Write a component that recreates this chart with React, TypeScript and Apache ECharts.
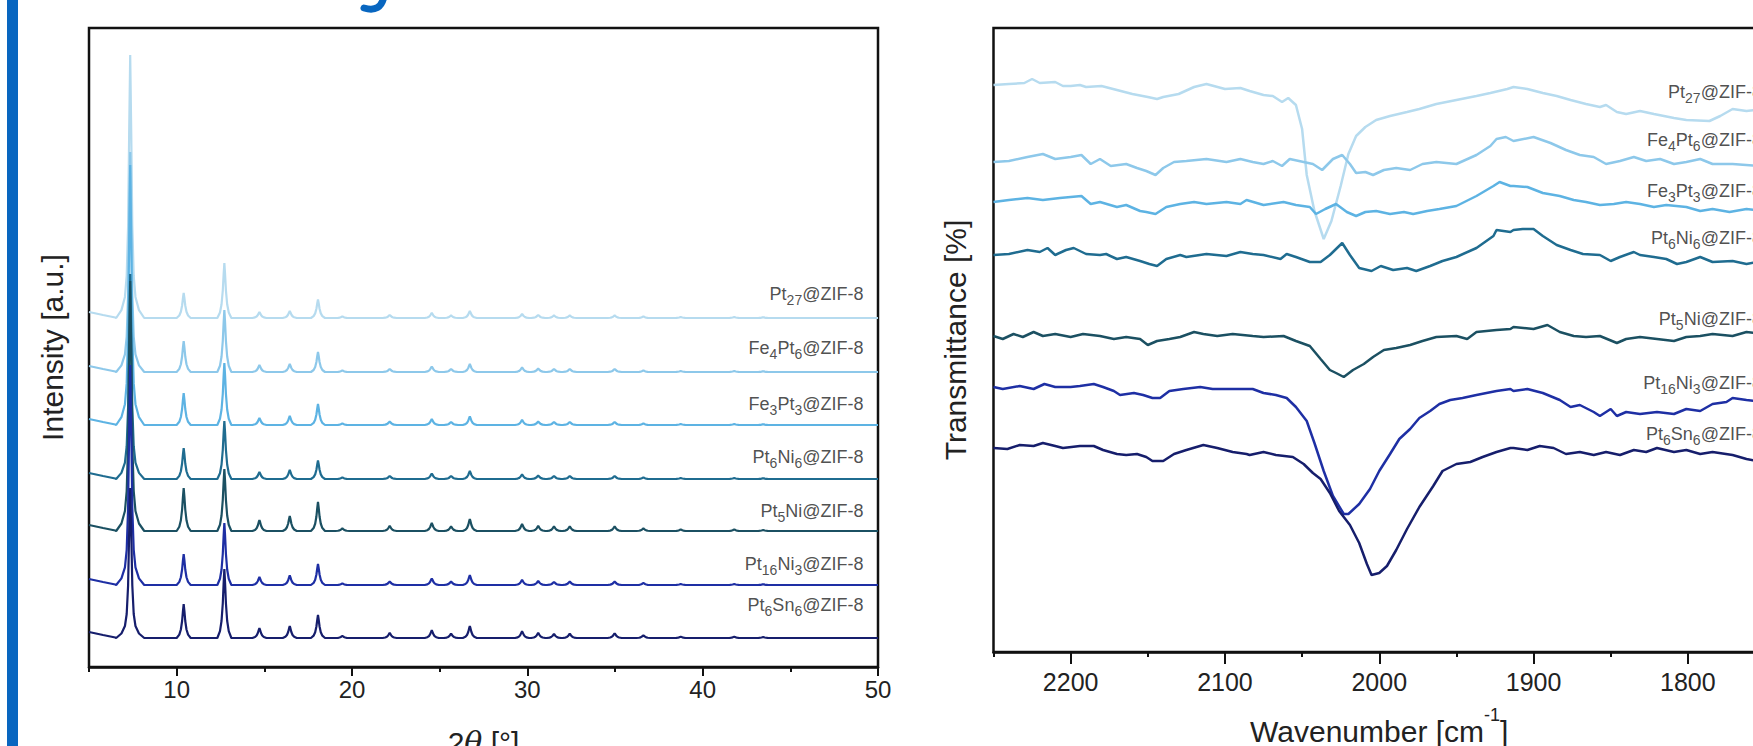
import React, { useEffect, useRef } from 'react';
import * as echarts from 'echarts';

// ---------- shared ----------
const SAMPLE_NAMES = [
  'Pt_{27}@ZIF-8',
  'Fe_{4}Pt_{6}@ZIF-8',
  'Fe_{3}Pt_{3}@ZIF-8',
  'Pt_{6}Ni_{6}@ZIF-8',
  'Pt_{5}Ni@ZIF-8',
  'Pt_{16}Ni_{3}@ZIF-8',
  'Pt_{6}Sn_{6}@ZIF-8',
];
const SERIES_COLORS = ['#b6dbef', '#8dc8ea', '#5db3e3', '#1f6c90', '#1b5062', '#1e2fa4', '#161e6c'];

// ---------- XRD (left) ----------
const XRD_TICKS = [10, 20, 30, 40, 50];
const XRD_MINOR_TICKS = [5, 15, 25, 35, 45];
const XRD_OFFSETS = [349, 295, 242, 188, 136, 82, 29];
const XRD_PEAK_POS = [7.35, 10.4, 12.72, 14.72, 16.45, 18.06, 19.45, 22.15, 24.55, 25.65, 26.72, 29.7, 30.62, 31.52, 32.42, 34.98, 36.62, 38.75, 41.8, 43.45];
const XRD_H_PT27 = [263, 25, 55, 6, 7, 18.5, 1.5, 3, 5, 2.5, 7, 4, 3, 2.5, 2.5, 2.5, 1.5, 1, 1, 0.8];
const XRD_H_FE4PT6 = [220, 31, 62, 7, 8, 20, 1.5, 3, 5.5, 3, 8, 4.5, 3.5, 3, 3, 3, 1.5, 1, 1, 0.8];
const XRD_H_FE3PT3 = [260, 32, 62, 7, 9, 21, 1.5, 3.5, 6, 3, 8.5, 5, 3.5, 3, 3, 3, 1.5, 1, 1, 0.8];
const XRD_H_PT6NI6 = [205, 31, 58, 7, 9, 18.5, 1.5, 3, 5.5, 3, 8, 4.5, 3.5, 3, 3, 3, 1.5, 1, 1, 0.8];
const XRD_H_PT5NI = [250, 43, 62, 11, 15, 29, 2.5, 5, 8, 4.5, 12, 7, 5, 4.5, 4.5, 4.5, 2.5, 1.5, 1.5, 1];
const XRD_H_PT16NI3 = [220, 31, 62, 8, 9.5, 21, 1.5, 3.5, 6.5, 3.5, 10, 5, 4, 3, 3.5, 3.5, 2, 1, 1, 0.8];
const XRD_H_PT6SN6 = [150, 34, 69, 10, 12, 23, 2, 5, 7.7, 4.3, 12, 6.7, 5, 4, 4.3, 4.7, 2.7, 1.3, 1.3, 1];
const XRD_HEIGHTS = [XRD_H_PT27, XRD_H_FE4PT6, XRD_H_FE3PT3, XRD_H_PT6NI6, XRD_H_PT5NI, XRD_H_PT16NI3, XRD_H_PT6SN6];
const XRD_LOW_ANGLE_RISE = [[5, 6], [5.8, 3], [6.5, 0.5]];
const MAIN_PEAK_SHAPE = [[-0.8, 0], [-0.5, 0.03], [-0.3, 0.08], [-0.2, 0.16], [-0.12, 0.35], [-0.06, 0.7], [0, 1], [0.06, 0.7], [0.12, 0.35], [0.2, 0.16], [0.3, 0.08], [0.5, 0.03], [0.8, 0]];
const MINOR_PEAK_SHAPE = [[-0.4, 0], [-0.25, 0.1], [-0.16, 0.25], [-0.09, 0.5], [-0.04, 0.8], [0, 1], [0.04, 0.8], [0.09, 0.5], [0.16, 0.25], [0.25, 0.1], [0.4, 0]];
const XRD_LABEL_2THETA = 49.17;
const XRD_LABEL_Y = [371.5, 317, 261.5, 208, 154, 101.5, 60.5];

// ---------- IR (right) ----------
const IR_TICKS = [2200, 2100, 2000, 1900, 1800];
const IR_MINOR_TICKS = [2250, 2150, 2050, 1950, 1850, 1750];
const IR_PT27 = [[2250,567],[2240,568],[2230,569],[2225,573],[2220,569],[2210,570],[2205,566],[2200,566],[2194,567],[2190,565],[2180,566],[2170,562],[2160,558],[2150,555],[2144,553],[2140,555],[2130,558],[2120,565],[2112,568],[2100,563],[2090,564],[2084,561],[2075,557],[2069,556],[2063,550],[2059,554],[2054,547],[2050,523],[2047,477],[2042,441],[2036,413],[2031,431],[2025,466],[2020,498],[2015,516],[2009,525],[2002,532],[1993,536],[1982,540],[1974,543],[1963,548],[1950,552],[1937,556],[1928,559],[1917,563],[1913,565],[1904,563],[1894,559],[1885,556],[1876,552],[1866,548],[1857,545],[1853,547],[1846,540],[1840,538],[1831,541],[1822,538],[1809,534],[1801,532],[1786,531],[1779,536],[1771,543],[1762,541],[1752,543]];
const IR_FE4PT6 = [[2250,490],[2240,491],[2228,495],[2218,498],[2210,493],[2200,495],[2193,497],[2187,488],[2181,493],[2174,486],[2164,488],[2157,484],[2151,481],[2145,477],[2140,484],[2133,490],[2125,491],[2112,493],[2099,490],[2090,493],[2082,490],[2075,488],[2069,491],[2063,486],[2058,493],[2049,490],[2043,488],[2037,482],[2030,493],[2024,497],[2019,488],[2015,479],[2009,480],[2004,477],[1997,482],[1989,484],[1980,482],[1972,488],[1963,490],[1950,488],[1937,497],[1928,506],[1924,513],[1918,515],[1913,511],[1900,515],[1889,509],[1879,502],[1870,497],[1861,495],[1853,488],[1844,491],[1835,495],[1827,491],[1818,493],[1809,488],[1801,490],[1792,493],[1784,488],[1771,488],[1752,486]];
const IR_FE3PT3 = [[2250,450],[2240,452],[2228,454],[2218,452],[2207,454],[2193,456],[2187,448],[2181,450],[2170,445],[2164,447],[2155,441],[2151,440],[2145,438],[2138,445],[2129,448],[2120,450],[2112,448],[2099,450],[2090,448],[2086,452],[2075,447],[2062,450],[2054,447],[2045,445],[2041,438],[2035,443],[2028,448],[2021,440],[2015,436],[2009,440],[2002,441],[1993,438],[1984,440],[1978,438],[1969,441],[1961,443],[1950,446],[1937,456],[1926,466],[1922,470],[1915,466],[1913,466],[1904,465],[1894,459],[1883,456],[1874,452],[1866,450],[1857,447],[1848,448],[1840,450],[1831,448],[1822,445],[1814,447],[1801,445],[1792,441],[1784,443],[1773,440],[1762,443],[1752,441]];
const IR_PT6NI6 = [[2250,397],[2240,398],[2228,402],[2220,400],[2215,404],[2210,397],[2203,402],[2198,404],[2190,398],[2181,397],[2177,398],[2170,393],[2164,395],[2155,391],[2149,388],[2144,386],[2138,393],[2129,397],[2125,395],[2112,398],[2099,396],[2090,400],[2082,398],[2075,397],[2064,393],[2060,398],[2054,395],[2045,390],[2038,390],[2032,397],[2024,409],[2019,397],[2013,384],[2005,381],[1999,386],[1991,382],[1982,384],[1976,381],[1967,386],[1959,391],[1950,395],[1937,404],[1926,416],[1924,422],[1915,420],[1913,422],[1907,423],[1900,423],[1894,416],[1885,407],[1876,402],[1868,398],[1857,397],[1850,391],[1844,395],[1835,400],[1831,397],[1822,395],[1814,393],[1807,388],[1801,390],[1792,395],[1784,390],[1771,391],[1762,388],[1752,391]];
const IR_PT5NI = [[2250,316],[2244,313],[2237,318],[2231,315],[2224,320],[2218,316],[2210,318],[2200,315],[2192,318],[2181,316],[2172,313],[2164,315],[2155,313],[2150,307],[2144,311],[2136,313],[2129,315],[2120,320],[2114,318],[2105,316],[2095,318],[2082,316],[2075,315],[2062,316],[2054,311],[2045,306],[2038,293],[2032,282],[2028,279],[2023,275],[2017,282],[2010,288],[2004,295],[1997,302],[1989,304],[1980,307],[1972,311],[1963,315],[1950,316],[1943,313],[1937,320],[1924,322],[1915,323],[1913,325],[1900,323],[1891,327],[1883,320],[1874,316],[1866,315],[1857,316],[1846,309],[1840,313],[1831,315],[1820,313],[1809,311],[1801,315],[1792,316],[1784,318],[1771,316],[1762,320],[1752,318]];
const IR_PT16NI3 = [[2250,265],[2244,263],[2233,266],[2224,263],[2217,268],[2210,265],[2200,265],[2194,266],[2185,268],[2179,265],[2172,261],[2168,257],[2159,259],[2153,257],[2147,254],[2142,254],[2136,261],[2127,263],[2116,265],[2108,263],[2095,263],[2082,263],[2075,259],[2067,257],[2060,254],[2054,245],[2047,231],[2042,209],[2036,181],[2030,156],[2023,138],[2020,138],[2013,148],[2006,163],[2000,181],[1993,198],[1987,213],[1980,223],[1974,234],[1967,241],[1961,248],[1954,252],[1946,254],[1937,257],[1924,261],[1915,263],[1913,261],[1904,263],[1894,259],[1883,252],[1876,245],[1870,247],[1861,240],[1857,236],[1850,243],[1846,236],[1840,240],[1831,238],[1820,240],[1809,238],[1801,243],[1792,241],[1784,248],[1775,250],[1771,254],[1762,252],[1752,250]];
const IR_PT6SN6 = [[2250,204],[2241,203],[2233,207],[2224,206],[2218,209],[2210,206],[2205,204],[2194,206],[2185,206],[2179,202],[2170,198],[2164,197],[2157,198],[2151,195],[2147,191],[2140,191],[2133,198],[2125,202],[2114,207],[2105,204],[2095,200],[2086,198],[2084,197],[2075,200],[2067,197],[2056,195],[2049,188],[2043,179],[2038,173],[2032,159],[2026,141],[2019,127],[2013,109],[2008,88],[2005,77],[2000,79],[1995,86],[1989,102],[1982,123],[1974,145],[1965,166],[1959,181],[1950,188],[1941,190],[1933,195],[1924,200],[1915,204],[1913,204],[1904,202],[1896,206],[1887,204],[1879,198],[1870,200],[1861,197],[1853,200],[1844,197],[1835,202],[1827,200],[1820,204],[1809,200],[1801,202],[1792,198],[1784,200],[1771,197],[1762,193],[1752,190]];
const IR_SERIES = [IR_PT27, IR_FE4PT6, IR_FE3PT3, IR_PT6NI6, IR_PT5NI, IR_PT16NI3, IR_PT6SN6];
const IR_LABEL_WAVENUMBER = 1752;
const IR_LABEL_Y = [558.5, 510, 459.5, 412, 331.5, 267, 216];

const FONT = '"Liberation Sans", Arial, Helvetica, sans-serif';

function toRich(name: string): string {
  return name
    .split(/(_\{\d+\})/)
    .filter(Boolean)
    .map((p) => (p.startsWith('_{') ? `{s|${p.slice(2, -1)}}` : `{m|${p}}`))
    .join('');
}

function xrdPattern(offset: number, heights: number[]): number[][] {
  const pts: number[][] = XRD_LOW_ANGLE_RISE.map(([x, h]) => [x, offset + h]);
  XRD_PEAK_POS.forEach((pos, i) => {
    const shape = i === 0 ? MAIN_PEAK_SHAPE : MINOR_PEAK_SHAPE;
    shape.forEach(([dx, f]) => pts.push([pos + dx, offset + heights[i] * f]));
  });
  pts.push([50, offset]);
  return pts;
}

const LABEL_RICH = {
  m: { fontSize: 18, lineHeight: 22, verticalAlign: 'top', color: '#222', fontFamily: FONT },
  s: { fontSize: 14, lineHeight: 22, verticalAlign: 'bottom', color: '#222', fontFamily: FONT },
};

export default function App() {
  const ref = useRef<HTMLDivElement>(null);
  useEffect(() => {
    if (!ref.current) return;
    const chart = echarts.init(ref.current, undefined, { renderer: 'svg' });

    const axisLineStyle = { color: '#111', width: 2.5 };
    const tickStyle = { color: '#111', width: 2 };

    const series: any[] = [];
    XRD_HEIGHTS.forEach((h, i) => {
      series.push({
        type: 'line',
        xAxisIndex: 0,
        yAxisIndex: 0,
        data: xrdPattern(XRD_OFFSETS[i], h),
        showSymbol: false,
        symbol: 'none',
        lineStyle: { color: SERIES_COLORS[i], width: 2.2 },
        silent: true,
      });
    });
    IR_SERIES.forEach((d, i) => {
      series.push({
        type: 'line',
        xAxisIndex: 2,
        yAxisIndex: 1,
        data: d,
        showSymbol: false,
        symbol: 'none',
        lineStyle: { color: SERIES_COLORS[i], width: 2.5 },
        silent: true,
      });
    });
    series.push({
      type: 'scatter',
      xAxisIndex: 0,
      yAxisIndex: 0,
      symbolSize: 0,
      silent: true,
      data: SAMPLE_NAMES.map((n, i) => ({
        value: [XRD_LABEL_2THETA, XRD_LABEL_Y[i]],
        label: { formatter: toRich(n) },
      })),
      label: { show: true, position: 'left', distance: 0, rich: LABEL_RICH },
    });
    series.push({
      type: 'scatter',
      xAxisIndex: 2,
      yAxisIndex: 1,
      symbolSize: 0,
      silent: true,
      clip: false,
      data: SAMPLE_NAMES.map((n, i) => ({
        value: [IR_LABEL_WAVENUMBER, IR_LABEL_Y[i]],
        label: { formatter: toRich(n) },
      })),
      label: { show: true, position: 'left', distance: 0, rich: LABEL_RICH },
    });

    const option: any = {
      animation: false,
      backgroundColor: '#ffffff',
      textStyle: { fontFamily: FONT },
      graphic: [
        { type: 'rect', shape: { x: 7, y: 0, width: 11, height: 746 }, style: { fill: '#0866c0' }, silent: true },
        {
          type: 'bezierCurve',
          silent: true,
          shape: { x1: 384, y1: -4, cpx1: 381, cpy1: 13, x2: 364, y2: 8 },
          style: { stroke: '#0866c0', lineWidth: 7, fill: 'none', lineCap: 'round' },
        },
      ],
      grid: [
        { left: 89, top: 28, width: 789, height: 639, show: true, borderColor: '#111', borderWidth: 2.5, backgroundColor: 'transparent', outerBoundsMode: 'none', containLabel: false },
        { left: 993.5, top: 28, width: 771.5, height: 624, show: true, borderColor: '#111', borderWidth: 2.5, backgroundColor: 'transparent', outerBoundsMode: 'none', containLabel: false },
      ],
      xAxis: [
        {
          gridIndex: 0, type: 'value', min: 5, max: 50, position: 'bottom',
          axisLine: { show: true, lineStyle: axisLineStyle },
          axisTick: { show: true, customValues: XRD_TICKS, length: 9, lineStyle: tickStyle },
          axisLabel: { show: true, customValues: XRD_TICKS, fontSize: 24, margin: 10, color: '#222', fontFamily: FONT, formatter: (v: number) => String(v) },
          splitLine: { show: false },
          name: '{n|2}{t|θ}{n| [°]}',
          nameLocation: 'middle',
          nameGap: 60,
          nameTextStyle: {
            rich: {
              n: { fontSize: 30, color: '#222', fontFamily: FONT },
              t: { fontSize: 30, color: '#222', fontStyle: 'italic', fontFamily: '"DejaVu Serif", serif' },
            },
          },
        },
        {
          gridIndex: 0, type: 'value', min: 5, max: 50, position: 'bottom',
          axisLine: { show: false },
          axisTick: { show: true, customValues: XRD_MINOR_TICKS, length: 5, lineStyle: tickStyle },
          axisLabel: { show: false },
          splitLine: { show: false },
        },
        {
          gridIndex: 1, type: 'value', min: 1750, max: 2250, inverse: true, position: 'bottom',
          axisLine: { show: true, lineStyle: axisLineStyle },
          axisTick: { show: true, customValues: IR_TICKS, length: 12, lineStyle: tickStyle },
          axisLabel: { show: true, customValues: IR_TICKS, fontSize: 25, margin: 17, color: '#222', fontFamily: FONT, formatter: (v: number) => String(v) },
          splitLine: { show: false },
          name: '{n|Wavenumber [cm}{p|-1}{n|]}',
          nameLocation: 'middle',
          nameGap: 54,
          nameTextStyle: {
            rich: {
              n: { fontSize: 30, lineHeight: 40, verticalAlign: 'bottom', color: '#222', fontFamily: FONT },
              p: { fontSize: 18, lineHeight: 26, verticalAlign: 'top', color: '#222', fontFamily: FONT },
            },
          },
        },
        {
          gridIndex: 1, type: 'value', min: 1750, max: 2250, inverse: true, position: 'bottom',
          axisLine: { show: false },
          axisTick: { show: true, customValues: IR_MINOR_TICKS, length: 5, lineStyle: tickStyle },
          axisLabel: { show: false },
          splitLine: { show: false },
        },
      ],
      yAxis: [
        {
          gridIndex: 0, type: 'value', min: 0, max: 639,
          axisLine: { show: false }, axisTick: { show: false }, axisLabel: { show: false }, splitLine: { show: false },
          name: 'Intensity [a.u.]', nameLocation: 'middle', nameGap: 22, nameRotate: 90,
          nameTextStyle: { fontSize: 30, color: '#222', fontFamily: FONT },
        },
        {
          gridIndex: 1, type: 'value', min: 0, max: 624,
          axisLine: { show: false }, axisTick: { show: false }, axisLabel: { show: false }, splitLine: { show: false },
          name: 'Transmittance [%]', nameLocation: 'middle', nameGap: 23, nameRotate: 90,
          nameTextStyle: { fontSize: 30, color: '#222', fontFamily: FONT },
        },
      ],
      series,
    };
    chart.setOption(option);
    return () => chart.dispose();
  }, []);

  return (
    <div
      ref={ref}
      style={{ position: 'fixed', left: 0, top: 0, width: 1753, height: 746, background: '#fff' }}
    />
  );
}
